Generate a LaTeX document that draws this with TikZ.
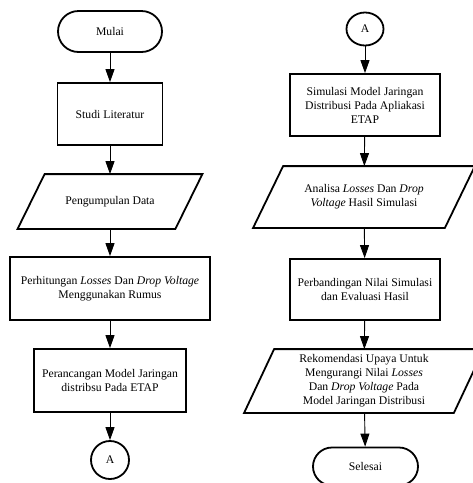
\documentclass[tikz,border=0pt]{standalone}
\usepackage{fontspec}
\setmainfont{Liberation Serif}
\usetikzlibrary{arrows.meta,shapes.geometric}
\newcommand{\txtfont}{\fontsize{11.7pt}{14pt}\selectfont}
\begin{document}
\begin{tikzpicture}[x=1pt,y=-1pt,
  box/.style={draw, line width=1.8pt, align=center, inner sep=0pt, font=\txtfont},
  term/.style={box, rounded corners=#1},
  ptext/.style={align=center, inner sep=0pt, outer sep=0.9pt, font=\txtfont},
  pline/.style={draw, line width=1.8pt},
  arr/.style={draw, line width=0.9pt, -{Triangle[length=13pt,width=9pt]}}
]
\useasboundingbox (0,0) rectangle (473,483);
\clip (0,0) rectangle (473,483);

% ---- left column ----
\node[term=20.5pt, minimum width=104pt, minimum height=41pt] (mulai) at (110,31.5) {Mulai};
\node[box, minimum width=105pt, minimum height=62pt] (studi) at (110,114) {Studi Literatur};
\node[ptext, minimum width=156pt, minimum height=53pt] (data) at (110,201.5) {Pengumpulan Data};
\draw[pline] ([xshift=13.5pt]data.north west) -- ([xshift=13.5pt]data.north east)
  -- ([xshift=-13.5pt]data.south east) -- ([xshift=-13.5pt]data.south west) -- cycle;
\node[box, minimum width=200pt, minimum height=63pt] (hitung) at (110,288.5)
  {Perhitungan \textit{Losses} Dan \textit{Drop Voltage}\\Menggunakan Rumus};
\node[box, minimum width=152pt, minimum height=63pt] (rancang) at (110,380.5)
  {Perancangan Model Jaringan\\distribsu Pada ETAP};
\node[box, circle, minimum size=38pt] (a1) at (110,460) {A};

\draw[arr] (mulai) -- (studi);
\draw[arr] (studi) -- (data);
\draw[arr] (data) -- (hitung);
\draw[arr] (hitung) -- (rancang);
\draw[arr] (rancang) -- (a1);

% ---- right column ----
\node[box, ellipse, minimum width=37pt, minimum height=33pt] (a2) at (365,29) {A};
\node[box, minimum width=150pt, minimum height=62pt] (sim) at (365,105)
  {Simulasi Model Jaringan\\Distribusi Pada Apliakasi\\ETAP};
\node[ptext, minimum width=190pt, minimum height=60pt] (analisa) at (364,197)
  {Analisa \textit{Losses} Dan \textit{Drop}\\\textit{Voltage} Hasil Simulasi};
\draw[pline] ([xshift=15pt]analisa.north west) -- ([xshift=15pt]analisa.north east)
  -- ([xshift=-15pt]analisa.south east) -- ([xshift=-15pt]analisa.south west) -- cycle;
\node[box, minimum width=150pt, minimum height=61pt] (banding) at (365,289.5)
  {Perbandingan Nilai Simulasi\\dan Evaluasi Hasil};
\node[ptext, minimum width=208pt, minimum height=62pt] (rekom) at (364,381)
  {Rekomendasi Upaya Untuk\\Mengurangi Nilai \textit{Losses}\\Dan \textit{Drop Voltage} Pada\\Model Jaringan Distribusi};
\draw[pline] ([xshift=15pt]rekom.north west) -- ([xshift=15pt]rekom.north east)
  -- ([xshift=-15pt]rekom.south east) -- ([xshift=-15pt]rekom.south west) -- cycle;
\node[term=19pt, minimum width=105pt, minimum height=38pt] (selesai) at (365.5,466.5) {Selesai};

\draw[arr] (a2) -- (sim);
\draw[arr] (sim) -- (analisa);
\draw[arr] (analisa) -- (banding);
\draw[arr] (banding) -- (rekom);
\draw[arr] (rekom) -- (selesai);
\end{tikzpicture}
\end{document}
